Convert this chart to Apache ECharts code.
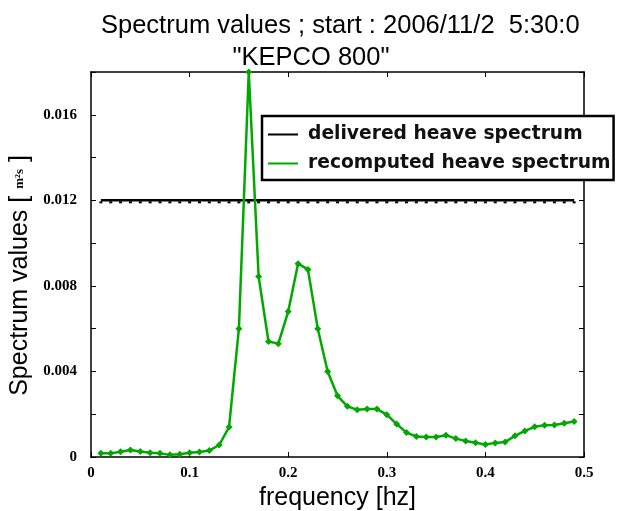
<!DOCTYPE html>
<html>
<head>
<meta charset="utf-8">
<script src="https://cdn.jsdelivr.net/npm/echarts@6/dist/echarts.min.js"></script>
<style>
  html, body { margin: 0; padding: 0; background: #fff; }
  #chart { width: 619px; height: 511px; }
</style>
</head>
<body>
<div id="chart"></div>
<script>
// frequency bins [hz]
const frequencies = [
  0.01, 0.02, 0.03, 0.04, 0.05, 0.06, 0.07, 0.08, 0.09, 0.10,
  0.11, 0.12, 0.13, 0.14, 0.15, 0.16, 0.17, 0.18, 0.19, 0.20,
  0.21, 0.22, 0.23, 0.24, 0.25, 0.26, 0.27, 0.28, 0.29, 0.30,
  0.31, 0.32, 0.33, 0.34, 0.35, 0.36, 0.37, 0.38, 0.39, 0.40,
  0.41, 0.42, 0.43, 0.44, 0.45, 0.46, 0.47, 0.48, 0.49
];
// recomputed heave spectrum [m2s]
const recomputed = [
  0.00017, 0.00017, 0.00025, 0.00033, 0.00026, 0.00020, 0.00017, 0.00010, 0.00013, 0.00020,
  0.00023, 0.00030, 0.00056, 0.00140, 0.00600, 0.01800, 0.00844, 0.00540, 0.00530, 0.00680,
  0.00904, 0.00877, 0.00600, 0.00400, 0.00286, 0.00237, 0.00221, 0.00224, 0.00224, 0.00198,
  0.00154, 0.00114, 0.00096, 0.00094, 0.00094, 0.00102, 0.00086, 0.00075, 0.00067, 0.00058,
  0.00066, 0.00070, 0.00099, 0.00122, 0.00141, 0.00149, 0.00150, 0.00158, 0.00166
];
// delivered heave spectrum level
const deliveredLevel = 0.012;
const yLabels = [0, 0.004, 0.008, 0.012, 0.016];

const chart = echarts.init(document.getElementById('chart'));

function tickFont() {
  return { fontFamily: 'Liberation Serif', fontWeight: 'bold', fontSize: 15, color: '#000' };
}
function axisLine() {
  return { show: true, onZero: false, lineStyle: { color: '#000', width: 1.5 } };
}
function axisTick() {
  return { show: true, inside: true, length: 5, lineStyle: { color: '#000', width: 1 } };
}

chart.setOption({
  backgroundColor: '#fff',
  animation: false,
  title: [
    {
      text: 'Spectrum values ; start : 2006/11/2  5:30:0',
      left: 96, top: 8,
      textStyle: { fontFamily: 'Liberation Sans', fontWeight: 'normal', fontSize: 25.5, color: '#000' }
    },
    {
      text: '"KEPCO 800"',
      left: 306, top: 40, textAlign: 'center',
      textStyle: { fontFamily: 'Liberation Sans', fontWeight: 'normal', fontSize: 25.5, color: '#000' }
    }
  ],
  legend: {
    orient: 'vertical',
    left: 262, top: 116,
    padding: [9, 3, 7, 5],
    itemGap: 10,
    itemWidth: 30,
    itemHeight: 14,
    backgroundColor: '#fff',
    borderColor: '#000',
    borderWidth: 2.5,
    borderRadius: 0,
    itemStyle: { opacity: 0 },
    textStyle: {
      fontFamily: 'DejaVu Sans', fontWeight: 'bold', fontSize: 18.7, color: '#111',
      padding: [0, 0, 0, 5]
    },
    data: ['delivered heave spectrum', 'recomputed heave spectrum']
  },
  grid: { left: 91, right: 35, top: 72, bottom: 54, outerBoundsMode: 'none', containLabel: false },
  xAxis: [
    {
      type: 'value', min: 0, max: 0.5, interval: 0.1,
      name: 'frequency [hz]', nameLocation: 'middle', nameGap: 24,
      nameTextStyle: { fontFamily: 'Liberation Sans', fontSize: 25, color: '#000' },
      axisLine: axisLine(),
      axisTick: axisTick(),
      axisLabel: Object.assign({ margin: 9, formatter: v => String(+v.toFixed(1)) }, tickFont()),
      splitLine: { show: false }
    },
    {
      type: 'value', min: 0, max: 0.5, interval: 0.1, position: 'top',
      axisLine: axisLine(),
      axisTick: axisTick(),
      axisLabel: { show: false },
      splitLine: { show: false }
    }
  ],
  yAxis: [
    {
      type: 'value', min: 0, max: 0.018, interval: 0.002,
      name: 'Spectrum values [ {s|m²s} ]', nameLocation: 'middle', nameGap: 58, nameRotate: 90,
      nameTextStyle: {
        fontFamily: 'Liberation Sans', fontSize: 25, color: '#000',
        padding: [0, 22, 0, 0],
        rich: { s: { fontFamily: 'Liberation Serif', fontWeight: 'bold', fontSize: 13, color: '#000' } }
      },
      axisLine: axisLine(),
      axisTick: axisTick(),
      axisLabel: Object.assign({
        margin: 14,
        formatter: v => {
          const r = Math.round(v * 1000) / 1000;
          return yLabels.includes(r) ? String(r) : '';
        }
      }, tickFont()),
      splitLine: { show: false }
    },
    {
      type: 'value', min: 0, max: 0.018, interval: 0.002, position: 'right',
      axisLine: axisLine(),
      axisTick: axisTick(),
      axisLabel: { show: false },
      splitLine: { show: false }
    }
  ],
  series: [
    {
      name: 'delivered heave spectrum',
      type: 'line',
      data: frequencies.map(f => [f, deliveredLevel]),
      symbol: 'rect',
      symbolSize: [3, 2],
      symbolOffset: [0, 2],
      itemStyle: { color: '#000' },
      lineStyle: { color: '#000', width: 2.5 },
      z: 3
    },
    {
      name: 'recomputed heave spectrum',
      type: 'line',
      data: frequencies.map((f, i) => [f, recomputed[i]]),
      symbol: 'diamond',
      symbolSize: 7,
      itemStyle: { color: '#00a800' },
      lineStyle: { color: '#00a800', width: 2.5 },
      z: 4
    }
  ]
});
</script>
</body>
</html>
